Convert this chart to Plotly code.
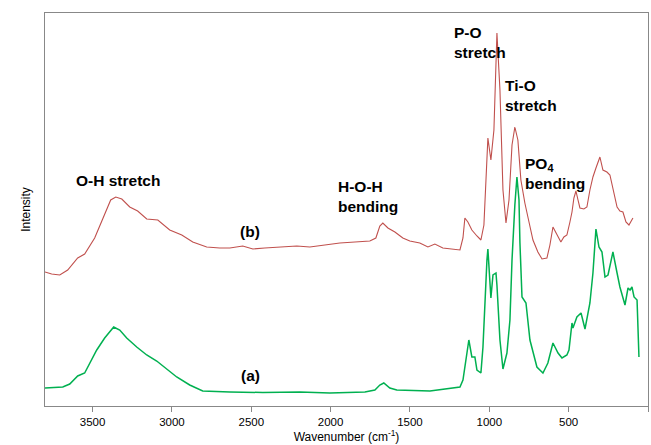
import plotly.graph_objects as go

# Spectrum (b) - red, upper trace
wn_b = [3800, 3758, 3707, 3657, 3594, 3550, 3487, 3424, 3386, 3354, 3316, 3266, 3216, 3159,
        3089, 3014, 2938, 2869, 2781, 2699, 2635, 2554, 2490, 2415, 2320, 2213, 2131, 2037,
        1942, 1847, 1753, 1715, 1690, 1671, 1639, 1595, 1545, 1501, 1438, 1387, 1343, 1293,
        1229, 1185, 1166, 1154, 1135, 1110, 1078, 1053, 1034, 1021, 1009, 990, 971, 952, 933,
        914, 895, 876, 857, 839, 820, 801, 776, 750, 725, 694, 668, 637, 618, 599, 574, 549,
        530, 511, 492, 479, 467, 454, 441, 429, 404, 385, 366, 347, 328, 303, 284, 259, 240,
        221, 195, 177, 158, 139, 120, 95]
int_b = [134, 132, 131, 136, 148, 152, 168, 191, 206, 209, 207, 199, 195, 187,
         186, 176, 171, 164, 159, 158, 158, 160, 157, 158, 159, 160, 159, 161,
         163, 164, 165, 168, 180, 183, 178, 174, 168, 165, 163, 159, 162, 158,
         157, 156, 168, 188, 184, 176, 170, 166, 181, 236, 268, 246, 276, 373, 316,
         216, 183, 206, 261, 279, 266, 226, 203, 184, 166, 154, 147, 148, 161, 179, 171, 164,
         169, 171, 184, 194, 208, 215, 206, 198, 197, 199, 216, 229, 238, 249, 236, 234, 231,
         216, 199, 195, 194, 184, 181, 188]

# Spectrum (a) - green, lower trace
wn_a = [3800, 3688, 3644, 3594, 3550, 3474, 3424, 3367, 3329, 3285, 3222, 3159, 3096, 3033,
        2970, 2888, 2806, 2635, 2427, 2194, 2005, 1784, 1721, 1690, 1665, 1627, 1583, 1374,
        1185, 1166, 1154, 1129, 1110, 1091, 1078, 1053, 1040, 1028, 1015, 1009, 990, 977, 958,
        952, 933, 914, 889, 870, 857, 839, 826, 813, 807, 794, 769, 744, 700, 662, 631, 599,
        567, 542, 511, 498, 479, 473, 448, 422, 397, 366, 347, 328, 309, 290, 271, 252, 221,
        195, 177, 145, 126, 113, 101, 88, 69, 57]
int_a = [18, 19, 22, 30, 33, 56, 68, 79, 76, 68, 59, 51, 45, 37,
         29, 21, 15, 14, 13.5, 14, 13, 14, 16, 21, 23, 18, 16, 15,
         19, 26, 39, 66, 49, 49, 36, 33, 59, 106, 146, 157, 108, 131, 133,
         121, 66, 37, 53, 86, 146, 201, 229, 206, 163, 109, 103, 66, 39, 33, 43, 63,
         53, 48, 51, 56, 83, 78, 89, 93, 77, 103, 133, 177, 159, 154, 129, 131, 154,
         133, 119, 101, 118, 116, 119, 109, 106, 49]

x_ticks = [3500, 3000, 2500, 2000, 1500, 1000, 500, 0]

RED = "#C0504D"
GREEN = "#00B050"
FONT = "Liberation Sans, Arial, sans-serif"

fig = go.Figure()
fig.add_trace(go.Scatter(x=wn_b, y=int_b, mode="lines",
                         line=dict(color=RED, width=1.1), showlegend=False))
fig.add_trace(go.Scatter(x=wn_a, y=int_a, mode="lines",
                         line=dict(color=GREEN, width=1.5), showlegend=False))

ann_font = dict(family=FONT, size=15.5, color="black")
annotations = [
    dict(x=3342, y=226, text="<b>O-H stretch</b>", xanchor="center", yanchor="middle"),
    dict(x=2509, y=175, text="<b>(b)</b>", xanchor="center", yanchor="middle"),
    dict(x=2503, y=31, text="<b>(a)</b>", xanchor="center", yanchor="middle"),
    dict(x=1967, y=210, text="<b>H-O-H<br>bending</b>", xanchor="left", yanchor="middle", align="left"),
    dict(x=1236, y=364, text="<b>P-O<br>stretch</b>", xanchor="left", yanchor="middle", align="left"),
    dict(x=914, y=311, text="<b>Ti-O<br>stretch</b>", xanchor="left", yanchor="middle", align="left"),
    dict(x=788, y=233, text="<b>PO<sub>4</sub><br>bending</b>", xanchor="left", yanchor="middle", align="left"),
]
for a in annotations:
    a.update(xref="x", yref="y", showarrow=False, font=ann_font)

fig.update_layout(
    width=651, height=445,
    margin=dict(l=45, r=3, t=13, b=39),
    paper_bgcolor="white", plot_bgcolor="white",
    annotations=annotations,
    font=dict(family=FONT, size=11, color="black"),
)
fig.update_xaxes(
    range=[3800, 0], tickvals=x_ticks, ticktext=[str(t) for t in x_ticks],
    ticks="outside", ticklen=5, tickcolor="#888888",
    showline=True, linecolor="#888888", linewidth=1, mirror=True,
    showgrid=False, zeroline=False,
    tickfont=dict(family=FONT, size=11.5, color="black"),
    title=dict(text="Wavenumber (cm<sup>-1</sup>)", font=dict(family=FONT, size=12, color="black"), standoff=4),
)
fig.update_yaxes(
    range=[0, 393], showticklabels=False, ticks="",
    showline=True, linecolor="#888888", linewidth=1, mirror=True,
    showgrid=False, zeroline=False,
    title=dict(text="Intensity", font=dict(family=FONT, size=12, color="black"), standoff=10),
)

fig.write_html("out.html")
